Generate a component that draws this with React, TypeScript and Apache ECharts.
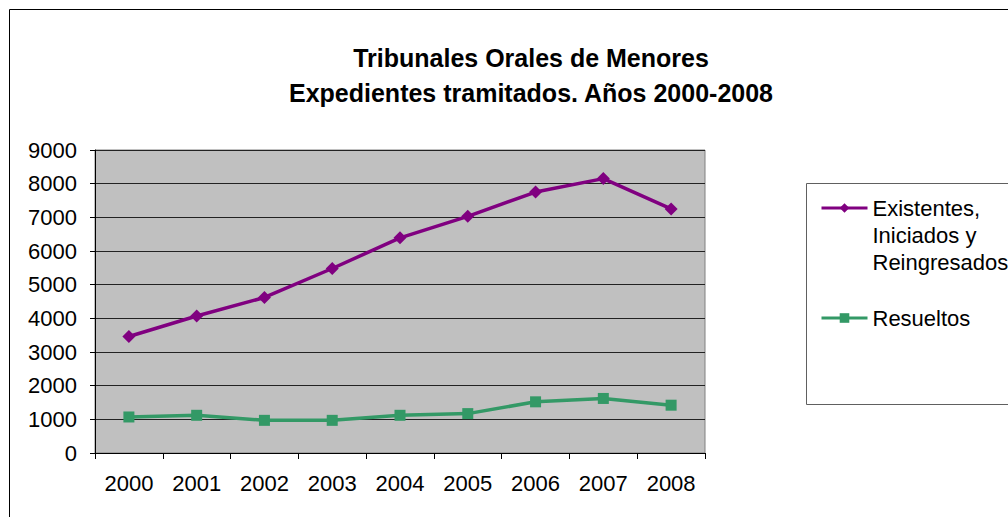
import React, { useEffect, useRef } from "react";
import * as echarts from "echarts";

const years = ["2000", "2001", "2002", "2003", "2004", "2005", "2006", "2007", "2008"];
const existentes = [3460, 4070, 4620, 5480, 6390, 7030, 7750, 8150, 7250];
const resueltos = [1070, 1120, 970, 970, 1120, 1170, 1520, 1620, 1420];
const seriesNames = ["Existentes, Iniciados y Reingresados", "Resueltos"];
const titleLines = ["Tribunales Orales de Menores", "Expedientes tramitados. Años 2000-2008"];

const FONT = "'Liberation Sans', Arial, sans-serif";

export default function App() {
  const ref = useRef<HTMLDivElement>(null);
  useEffect(() => {
    if (!ref.current) return;
    const chart = echarts.init(ref.current, null, { renderer: "svg" });
    const lh = 27;
    chart.setOption({
      animation: false,
      backgroundColor: "#ffffff",
      textStyle: { fontFamily: FONT },
      graphic: [
        {
          type: "rect",
          shape: { x: 9.5, y: 9.5, width: 1010, height: 520 },
          style: { fill: "none", stroke: "#000", lineWidth: 1 },
          silent: true,
        },
        {
          type: "rect",
          shape: { x: 806.5, y: 183.5, width: 220, height: 221 },
          style: { fill: "#fff", stroke: "#606060", lineWidth: 1 },
          silent: true,
          z: -1,
        },
        {
          type: "text",
          x: 531,
          y: 58,
          style: { text: titleLines[0], font: `bold 25px ${FONT}`, fill: "#000", align: "center", verticalAlign: "middle" },
        },
        {
          type: "text",
          x: 531,
          y: 93,
          style: { text: titleLines[1], font: `bold 25px ${FONT}`, fill: "#000", align: "center", verticalAlign: "middle" },
        },
      ],
      legend: [
        {
          data: [seriesNames[0]],
          left: 820,
          top: 208 - 2.5 * lh,
          padding: 0,
          itemWidth: 46,
          itemHeight: 12,
          lineStyle: { width: 3 },
          formatter: () => "\n\nExistentes,\nIniciados y\nReingresados",
          textStyle: { fontSize: 22, color: "#000", fontFamily: FONT, lineHeight: lh },
        },
        {
          data: [seriesNames[1]],
          left: 820,
          top: 318 - lh / 2,
          padding: 0,
          itemWidth: 46,
          itemHeight: 12,
          lineStyle: { width: 3 },
          textStyle: { fontSize: 22, color: "#000", fontFamily: FONT, lineHeight: lh },
        },
      ],
      grid: {
        left: 95,
        right: 303,
        top: 150,
        bottom: 64,
        show: true,
        backgroundColor: "#C0C0C0",
        borderColor: "#808080",
        borderWidth: 1,
      },
      xAxis: {
        type: "category",
        data: years,
        boundaryGap: true,
        axisLine: { lineStyle: { color: "#000", width: 1 } },
        axisTick: { show: true, length: 6, interval: 0, lineStyle: { color: "#000" } },
        axisLabel: { fontSize: 22, color: "#000", margin: 19, fontFamily: FONT },
      },
      yAxis: {
        type: "value",
        min: 0,
        max: 9000,
        interval: 1000,
        axisLine: { show: true, lineStyle: { color: "#000", width: 1 } },
        axisTick: { show: true, length: 5, lineStyle: { color: "#000" } },
        axisLabel: { fontSize: 22, color: "#000", margin: 18, fontFamily: FONT, formatter: (v: number) => String(v) },
        splitLine: { show: true, lineStyle: { color: "#222", width: 1 } },
      },
      series: [
        {
          name: seriesNames[0],
          type: "line",
          data: existentes,
          symbol: "diamond",
          symbolSize: 13,
          color: "#800080",
          lineStyle: { color: "#800080", width: 3.5 },
          itemStyle: { color: "#800080" },
        },
        {
          name: seriesNames[1],
          type: "line",
          data: resueltos,
          symbol: "rect",
          symbolSize: 11,
          color: "#339966",
          lineStyle: { color: "#339966", width: 3.5 },
          itemStyle: { color: "#339966" },
        },
      ],
    });
    return () => chart.dispose();
  }, []);
  return (
    <div
      ref={ref}
      style={{ position: "fixed", left: 0, top: 0, width: 1008, height: 517 }}
    />
  );
}
